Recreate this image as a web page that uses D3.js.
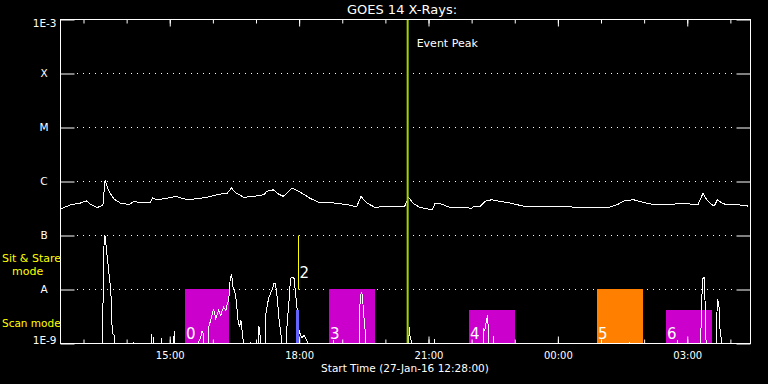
<!DOCTYPE html>
<html><head><meta charset="utf-8">
<script src="https://cdn.jsdelivr.net/npm/d3@7"></script>
<style>
html,body{margin:0;padding:0;background:#000;}
svg{display:block;}
text{font-family:"DejaVu Sans",sans-serif;}
</style></head><body>
<svg id="c" width="768" height="384"></svg>
<script>
// ---------------- data ----------------
const chartTitle = "GOES 14 X-Rays:";
const xAxisTitle = "Start Time (27-Jan-16 12:28:00)";
const timeStart = "12:28";
const timeEnd = "04:28";
const levelValues = [1e-9, 1e-8, 1e-7, 1e-6, 1e-5, 1e-4, 1e-3];
const levelLabels = ["1E-9", "A", "B", "C", "M", "X", "1E-3"];
const gridLevels = [1e-8, 1e-7, 1e-6, 1e-5, 1e-4];

// 1-8 Angstrom channel
const longXray = [
["12:28",3.1e-7],["12:42",3.7e-7],["12:56",4.0e-7],["13:04",4.4e-7],["13:10",3.75e-7],["13:19",3.3e-7],["13:27",3.6e-7],["13:30",1.07e-6],["13:35",6.8e-7],["13:42",4.8e-7],["13:51",4.0e-7],["14:03",3.75e-7],["14:11",4.3e-7],["14:19",4.0e-7],["14:33",4.1e-7],["14:36",5.0e-7],["14:42",4.6e-7],["14:56",4.9e-7],["15:08",5.3e-7],["15:24",4.6e-7],["15:38",4.8e-7],["15:52",5.1e-7],["16:06",5.7e-7],["16:20",6.1e-7],["16:26",7.6e-7],["16:31",6.3e-7],["16:43",5.1e-7],["16:57",5.3e-7],["17:11",5.7e-7],["17:15",6.6e-7],["17:24",7.0e-7],["17:31",5.9e-7],["17:38",5.3e-7],["17:50",7.6e-7],["18:02",6.3e-7],["18:15",4.9e-7],["18:29",4.0e-7],["18:48",4.0e-7],["19:06",3.75e-7],["19:20",3.4e-7],["19:26",5.3e-7],["19:34",4.0e-7],["19:46",3.3e-7],["20:02",3.5e-7],["20:27",3.5e-7],["20:32",5.1e-7],["20:39",3.9e-7],["20:48",3.3e-7],["21:05",3.0e-7],["21:09",3.9e-7],["21:16",3.9e-7],["21:30",3.3e-7],["21:48",3.3e-7],["22:00",3.2e-7],["22:03",3.5e-7],["22:12",3.5e-7],["22:19",4.3e-7],["22:28",4.6e-7],["22:39",4.3e-7],["22:53",4.0e-7],["23:12",3.5e-7],["23:35",3.5e-7],["00:12",3.4e-7],["00:40",3.3e-7],["01:10",3.3e-7],["01:22",3.7e-7],["01:33",4.4e-7],["01:45",4.6e-7],["01:59",4.1e-7],["02:15",3.7e-7],["02:31",3.75e-7],["02:54",3.9e-7],["03:15",3.75e-7],["03:22",6.1e-7],["03:27",4.6e-7],["03:34",3.7e-7],["03:38",3.6e-7],["03:42",4.6e-7],["03:48",4.0e-7],["03:55",3.7e-7],["04:08",3.75e-7],["04:25",3.5e-7]
];

// 0.5-4 Angstrom channel (1e-10 = below plot floor)
const shortXray = [
["12:28",1e-10],["13:26",1e-10],["13:27",3.9e-9],["13:28",4.0e-8],["13:29",9.8e-8],["13:30",9.6e-8],["13:32",5.7e-8],["13:33",4.0e-8],["13:35",2.3e-8],["13:36",1.6e-8],["13:38",1.0e-8],["13:39",3.8e-9],["13:40",1.7e-9],["13:41",1.5e-9],["13:43",1.4e-9],["13:44",1e-10],
["14:09",1e-10],["14:10",1.05e-9],["14:11",1e-10],
["14:34",1e-10],["14:35",1.5e-9],["14:36",1e-10],["14:38",1.3e-9],["14:39",1e-10],
["14:48",1e-10],["14:49",1.25e-9],["14:50",1e-10],
["15:05",1e-10],["15:06",1.7e-9],["15:07",1e-10],
["15:39",1e-10],["15:40",1.06e-9],["15:43",1.3e-9],["15:45",1.7e-9],["15:47",1.5e-9],["15:49",1e-10],
["15:53",1e-10],["15:54",2.0e-9],["15:57",2.7e-9],["15:59",3.5e-9],["16:01",4.4e-9],["16:04",2.9e-9],["16:06",3.5e-9],["16:08",4.1e-9],["16:11",3.3e-9],["16:13",4.1e-9],["16:15",4.7e-9],["16:18",4.1e-9],["16:20",5.4e-9],["16:22",6.3e-9],["16:24",1.5e-8],["16:26",1.95e-8],["16:28",1.1e-8],["16:30",9.6e-9],["16:32",7.2e-9],["16:35",2.7e-9],["16:37",2.0e-9],["16:39",2.7e-9],["16:42",1.2e-9],["16:43",1e-10],
["16:51",1e-10],["16:52",1.05e-9],["16:53",1e-10],
["17:03",1e-10],["17:04",2.1e-9],["17:06",1.3e-9],["17:07",1e-10],
["17:12",1e-10],["17:13",3.1e-9],["17:16",5.4e-9],["17:18",7.2e-9],["17:20",8.3e-9],["17:22",9.6e-9],["17:25",1.28e-8],["17:27",1.3e-8],["17:29",8.3e-9],["17:32",2.9e-9],["17:34",1.7e-9],["17:36",1.1e-9],["17:37",1e-10],
["17:42",1e-10],["17:43",2.0e-9],["17:46",6.3e-9],["17:48",1.6e-8],["17:50",1.7e-8],["17:53",1.6e-8],["17:55",8.3e-9],["17:57",4.7e-9],["17:59",2.0e-9],["18:02",1.4e-9],["18:04",1.3e-9],["18:07",1.4e-9],["18:11",1.1e-9],["18:12",1e-10],
["18:47",1e-10],["18:48",1.15e-9],["18:49",1e-10],
["19:23",1e-10],["19:24",2.3e-9],["19:25",7.7e-9],["19:27",8.7e-9],["19:28",7.7e-9],["19:30",3.3e-9],["19:32",1.7e-9],["19:33",1e-10],
["20:32",1e-10],["20:33",2.0e-9],["20:34",1.4e-9],["20:36",1.1e-9],["20:37",1e-10],
["21:08",1e-10],["21:09",1.2e-9],["21:10",1e-10],
["22:16",1e-10],["22:17",1.9e-9],["22:18",1.7e-9],["22:21",2.8e-9],["22:22",3.3e-9],["22:23",2.1e-9],["22:24",1e-10],
["22:30",1e-10],["22:31",1.4e-9],["22:32",1e-10],
["01:39",1e-10],["01:40",1.05e-9],["01:41",1e-10],
["02:46",1e-10],["02:47",1.15e-9],["02:48",1e-10],
["03:18",1e-10],["03:19",1.5e-9],["03:20",6.3e-9],["03:22",1.65e-8],["03:24",1.65e-8],["03:25",4.1e-9],["03:26",1.5e-9],["03:27",1e-10],
["03:40",1e-10],["03:41",2.7e-9],["03:42",6.5e-9],["03:44",5.8e-9],["03:45",2.1e-9],["03:47",1.3e-9],["03:48",1.15e-9],["03:49",1e-10],
["04:28",1e-10]
];

// observation windows
const obsIds   = ["0", "3", "4", "5", "6"];
const obsStart = ["15:21", "18:42", "21:57", "00:55", "02:31"];
const obsEnd   = ["16:23", "19:46", "23:00", "01:59", "03:34"];
const obsMode  = ["sit", "sit", "scan", "sit", "scan"];
const obsKind  = ["a", "a", "a", "b", "a"];
const modeFlux = { sit: 1e-8, scan: 4.1e-9 };
const modeNames = ["Sit & Stare", "mode", "Scan mode"];

const shortObsStart = "17:55", shortObsEnd = "18:00", shortObsMode = "scan";
const marker2Id = "2", marker2Time = "17:59", marker2Range = [1e-8, 1e-7];
const eventPeakTime = "20:31";
const eventPeakLabel = "Event Peak";

// ---------------- rendering ----------------
function T(s) {
  const [h, m] = s.split(":").map(Number);
  return new Date(2016, 0, h < 12 ? 28 : 27, h, m);
}
const WHITE = "#fff", YELLOW = "#ffff00";
const L = 60.5, R = 750.5, TOP = 19.5, BOT = 343.5;
const svg = d3.select("#c");
svg.append("rect").attr("width", 768).attr("height", 384).attr("fill", "#000");

const x = d3.scaleTime().domain([T(timeStart), T(timeEnd)]).range([L, R]);
const y = d3.scaleLog().domain([1e-9, 1e-3]).range([BOT, TOP]);

const defs = svg.append("defs");
defs.append("clipPath").attr("id", "clip").append("rect")
  .attr("x", L).attr("y", TOP).attr("width", R - L).attr("height", BOT - TOP);

// grid lines
svg.append("g").selectAll("line").data(gridLevels).join("line")
  .attr("x1", L + 16).attr("x2", R - 14)
  .attr("y1", d => Math.floor(y(d)) + 0.5).attr("y2", d => Math.floor(y(d)) + 0.5)
  .attr("stroke", WHITE).attr("stroke-width", 1).attr("stroke-dasharray", "1 5")
  .attr("shape-rendering", "crispEdges");

// observation boxes
const boxColor = { a: "#cc00cc", b: "#ff8000" };
const boxes = svg.append("g");
obsIds.forEach((id, i) => {
  const x0 = Math.round(x(T(obsStart[i]))), x1 = Math.round(x(T(obsEnd[i])));
  const yt = Math.floor(y(modeFlux[obsMode[i]]));
  boxes.append("rect").attr("x", x0).attr("y", yt).attr("width", x1 - x0).attr("height", 343 - yt)
    .attr("fill", boxColor[obsKind[i]]);
});

// curves
const line = d3.line().x(d => x(T(d[0]))).y(d => y(d[1]));
const curves = svg.append("g").attr("clip-path", "url(#clip)");
[longXray, shortXray].forEach(series => {
  curves.append("path").datum(series).attr("d", line)
    .attr("fill", "none").attr("stroke", WHITE).attr("stroke-width", 1)
    .attr("shape-rendering", "crispEdges");
});

// short observation (blue)
{
  const x0 = Math.round(x(T(shortObsStart))), x1 = Math.round(x(T(shortObsEnd)));
  const yt = Math.floor(y(modeFlux[shortObsMode]));
  svg.append("rect").attr("x", x0).attr("y", yt).attr("width", x1 - x0).attr("height", 343 - yt)
    .attr("fill", "#6464ff");
}

// box labels
obsIds.forEach((id, i) => {
  svg.append("text").attr("x", Math.round(x(T(obsStart[i]))) + 1).attr("y", 339)
    .attr("font-size", 15).attr("fill", WHITE).text(id);
});

// marker 2
svg.append("line").attr("x1", Math.round(x(T(marker2Time))) + 0.5).attr("x2", Math.round(x(T(marker2Time))) + 0.5)
  .attr("y1", y(marker2Range[1])).attr("y2", y(marker2Range[0]))
  .attr("stroke", YELLOW).attr("stroke-width", 1);
svg.append("text").attr("x", x(T(marker2Time)) + 1).attr("y", 278).attr("font-size", 15)
  .attr("fill", WHITE).text(marker2Id);

// event peak
svg.append("line").attr("x1", x(T(eventPeakTime))).attr("x2", x(T(eventPeakTime)))
  .attr("y1", TOP).attr("y2", BOT).attr("stroke", "#a4d400").attr("stroke-width", 2);
svg.append("text").attr("x", x(T(eventPeakTime)) + 9).attr("y", 47).attr("font-size", 11)
  .attr("fill", WHITE).text(eventPeakLabel);

// frame
svg.append("rect").attr("x", L).attr("y", TOP).attr("width", R - L).attr("height", BOT - TOP)
  .attr("fill", "none").attr("stroke", WHITE).attr("stroke-width", 1);

function styleAxis(g) {
  g.select(".domain").remove();
  g.selectAll("line").attr("stroke", WHITE);
  g.selectAll("text").attr("fill", WHITE);
}
// bottom / top time axes
const minorH = d3.timeHour.every(1), majorH = d3.timeHour.every(3);
svg.append("g").attr("transform", `translate(0,${BOT})`)
  .call(d3.axisBottom(x).ticks(minorH).tickSizeInner(-4).tickSizeOuter(0).tickFormat(""))
  .call(styleAxis);
svg.append("g").attr("transform", `translate(0,${BOT})`)
  .call(d3.axisBottom(x).ticks(majorH).tickSizeInner(-7).tickSizeOuter(0).tickPadding(8)
    .tickFormat(d3.timeFormat("%H:%M")))
  .call(styleAxis)
  .call(g => g.selectAll("text").attr("font-size", 10).attr("font-family", '"DejaVu Sans",sans-serif'));
svg.append("g").attr("transform", `translate(0,${TOP})`)
  .call(d3.axisTop(x).ticks(minorH).tickSizeInner(-4).tickSizeOuter(0).tickFormat(""))
  .call(styleAxis);
svg.append("g").attr("transform", `translate(0,${TOP})`)
  .call(d3.axisTop(x).ticks(majorH).tickSizeInner(-7).tickSizeOuter(0).tickFormat(""))
  .call(styleAxis);

// left / right flux axes
svg.append("g").attr("transform", `translate(${L},0)`)
  .call(d3.axisLeft(y).tickValues(levelValues).tickFormat((d, i) => levelLabels[i])
    .tickSizeInner(-14).tickSizeOuter(0).tickPadding(4))
  .call(styleAxis)
  .call(g => g.selectAll("text").attr("font-size", 10.5).attr("font-family", '"DejaVu Sans",sans-serif')
    .each(function (d, i) {
      const t = d3.select(this);
      if (levelLabels[i].length === 1) t.attr("text-anchor", "middle").attr("x", -16.5);
      if (d === 1e-3) t.attr("dy", "0.66em");
      if (d === 1e-9) t.attr("dy", "0.02em");
    }));
svg.append("g").attr("transform", `translate(${R},0)`)
  .call(d3.axisRight(y).tickValues(levelValues).tickSizeInner(-14).tickSizeOuter(0).tickFormat(""))
  .call(styleAxis);

// titles
svg.append("text").attr("x", 402).attr("y", 14).attr("text-anchor", "middle")
  .attr("font-size", 13).attr("fill", WHITE).text(chartTitle);
svg.append("text").attr("x", 405).attr("y", 372).attr("text-anchor", "middle")
  .attr("font-size", 10.5).attr("fill", WHITE).text(xAxisTitle);

// mode labels
svg.append("text").attr("x", 2).attr("y", 262).attr("font-size", 11).attr("fill", YELLOW).text(modeNames[0]);
svg.append("text").attr("x", 12).attr("y", 275).attr("font-size", 11).attr("fill", YELLOW).text(modeNames[1]);
svg.append("text").attr("x", 2).attr("y", 327).attr("font-size", 10.5).attr("fill", YELLOW).text(modeNames[2]);
</script>
</body></html>
